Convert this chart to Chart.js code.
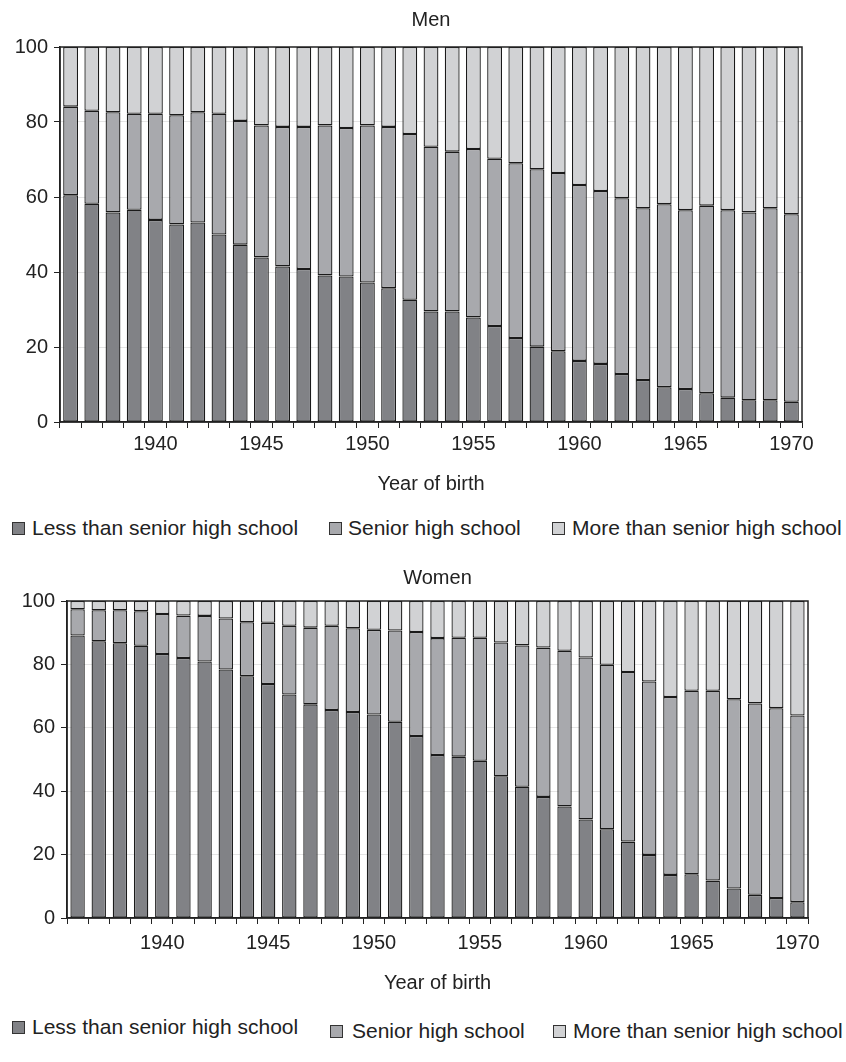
<!DOCTYPE html>
<html>
<head>
<meta charset="utf-8">
<script src="https://cdn.jsdelivr.net/npm/chart.js@4"></script>
<style>
  body { margin: 0; background: #fff; font-family: "Liberation Sans", Arial, sans-serif; color: #222; }
  .panel { position: absolute; left: 0; width: 846px; }
  .legend-item { position: absolute; font-size: 21px; line-height: 21px; white-space: nowrap; }
  .legend-box { position: absolute; width: 11px; height: 11px; border: 1px solid #333; }
</style>
</head>
<body>
<div class="panel" style="top:0;height:500px"><canvas id="menChart"></canvas></div>
<div id="menLegend"></div>
<div class="panel" style="top:552px;height:448px"><canvas id="womenChart"></canvas></div>
<div id="womenLegend"></div>
<script>
const years = [];
for (let y = 1936; y <= 1970; y++) years.push(y);

const seriesNames = ['Less than senior high school', 'Senior high school', 'More than senior high school'];
const seriesColors = ['#818286', '#a8a9ad', '#d1d2d4'];
const yTicks = [0, 20, 40, 60, 80, 100];

// Men (%)
const menLess = [60.5, 58.2, 55.9, 56.6, 53.9, 52.7, 53.2, 50.0, 47.3, 43.9, 41.5, 40.8, 39.1, 38.8, 37.2, 35.7, 32.6, 29.5,
  29.5, 27.9, 25.6, 22.4, 20.1, 18.9, 16.3, 15.5, 12.8, 11.2, 9.3, 8.8, 7.7, 6.5, 5.8, 5.8, 5.4];
const menSenior = [23.6, 24.8, 26.7, 25.6, 28.3, 29.1, 29.4, 32.2, 33.0, 35.2, 37.2, 37.9, 40.0, 39.6, 41.9, 43.0, 44.2, 43.9,
  42.6, 44.9, 44.6, 46.6, 47.3, 47.5, 46.9, 46.1, 46.9, 45.8, 48.8, 47.7, 50.0, 50.0, 50.1, 51.2, 50.0];
const menMore = [15.9, 17.0, 17.4, 17.8, 17.8, 18.2, 17.4, 17.8, 19.7, 20.9, 21.3, 21.3, 20.9, 21.6, 20.9, 21.3, 23.2, 26.6,
  27.9, 27.2, 29.8, 31.0, 32.6, 33.6, 36.8, 38.4, 40.3, 43.0, 41.9, 43.5, 42.3, 43.5, 44.1, 43.0, 44.6];

// Women (%)
const womenLess = [89.1, 87.3, 86.7, 85.9, 83.3, 82.0, 80.9, 78.4, 76.3, 73.8, 70.5, 67.4, 65.6, 65.0, 64.2, 61.9, 57.4, 51.4,
  50.9, 49.6, 44.7, 41.4, 38.2, 35.2, 31.1, 28.0, 24.1, 19.9, 13.6, 13.8, 11.8, 9.3, 7.3, 6.3, 5.0];
const womenSenior = [8.3, 9.8, 10.4, 10.9, 12.6, 13.4, 14.4, 16.1, 17.0, 19.3, 21.7, 24.2, 26.6, 26.4, 26.7, 28.8, 32.8, 36.9,
  37.5, 38.8, 42.2, 44.6, 47.1, 49.1, 51.1, 51.9, 53.5, 54.7, 56.1, 57.9, 59.9, 59.7, 60.4, 59.9, 58.9];
const womenMore = [2.6, 2.9, 2.9, 3.2, 4.1, 4.6, 4.7, 5.5, 6.7, 6.9, 7.8, 8.4, 7.8, 8.6, 9.1, 9.3, 9.8, 11.7,
  11.6, 11.6, 13.1, 14.0, 14.7, 15.7, 17.8, 20.1, 22.4, 25.4, 30.3, 28.3, 28.3, 31.0, 32.3, 33.8, 36.1];

Chart.defaults.font.family = '"Liberation Sans", Arial, sans-serif';
Chart.defaults.font.size = 20;
Chart.defaults.color = '#222';

// frame round the plot area and the panel title over its centre
const framePlugin = {
    id: 'frame',
    afterDatasetsDraw(chart, args, opts) {
        const { ctx, chartArea: a } = chart;
        ctx.save();
        ctx.strokeStyle = '#222';
        ctx.lineWidth = 1.5;
        ctx.strokeRect(a.left, a.top, a.right - a.left, a.bottom - a.top);
        ctx.fillStyle = '#222';
        ctx.font = '20px "Liberation Sans", Arial, sans-serif';
        ctx.textAlign = 'center';
        ctx.textBaseline = 'middle';
        ctx.fillText(opts.text, (a.left + a.right) / 2, opts.y);
        ctx.restore();
    }
};

function makeChart(id, title, titleY, less, senior, more, pad, yWidth, barPct, tickPad, titlePad) {
    const data = [less, senior, more];
    const ctx = document.getElementById(id).getContext('2d');
    return new Chart(ctx, {
        type: 'bar',
        data: {
            labels: years,
            datasets: data.map((d, i) => ({
                label: seriesNames[i],
                data: d,
                backgroundColor: seriesColors[i],
                borderColor: '#1a1a1a',
                borderWidth: 1.3,
                borderSkipped: false,
                inflateAmount: 0,
                barPercentage: barPct,
                categoryPercentage: 1.0,
            }))
        },
        options: {
            responsive: true,
            maintainAspectRatio: false,
            animation: false,
            layout: { padding: pad },
            plugins: {
                legend: { display: false },
                tooltip: { enabled: false },
                frame: { text: title, y: titleY }
            },
            scales: {
                x: {
                    stacked: true,
                    grid: { offset: true, drawOnChartArea: false, tickColor: '#222', tickLength: 6 },
                    border: { color: '#222', width: 1.5 },
                    ticks: {
                        autoSkip: false,
                        maxRotation: 0,
                        padding: tickPad,
                        callback: (v, i) => years[i] % 5 === 0 ? String(years[i]) : ''
                    },
                    title: { display: true, text: 'Year of birth', padding: { top: titlePad, bottom: 0 } }
                },
                y: {
                    stacked: true,
                    min: 0,
                    max: 100,
                    afterBuildTicks: s => { s.ticks = yTicks.map(v => ({ value: v })); },
                    afterFit: s => { s.width = yWidth; },
                    grid: {
                        color: c => (c.tick && (c.tick.value === 0 || c.tick.value === 100)) ? 'rgba(0,0,0,0)' : '#e4e4e4',
                        tickColor: '#222',
                        tickLength: 6
                    },
                    border: { color: '#222', width: 1.5 },
                    ticks: { padding: 6 }
                }
            }
        },
        plugins: [framePlugin]
    });
}

makeChart('menChart', 'Men', 20, menLess, menSenior, menMore, { top: 47, right: 44, bottom: 4, left: 0 }, 60, 0.7, 4, 12);
makeChart('womenChart', 'Women', 26, womenLess, womenSenior, womenMore, { top: 49, right: 38, bottom: 5, left: 0 }, 67, 0.68, 7, 9);

function buildLegend(elId, items) {
    const el = document.getElementById(elId);
    items.forEach((it, i) => {
        const box = document.createElement('div');
        box.className = 'legend-box';
        box.style.left = it.box + 'px';
        box.style.top = (it.y - 6) + 'px';
        box.style.background = seriesColors[i];
        const txt = document.createElement('div');
        txt.className = 'legend-item';
        txt.style.left = it.text + 'px';
        txt.style.top = (it.y - 11) + 'px';
        txt.textContent = seriesNames[i];
        el.appendChild(box);
        el.appendChild(txt);
    });
}

buildLegend('menLegend', [
    { box: 12, text: 32, y: 528 },
    { box: 329, text: 348, y: 528 },
    { box: 552, text: 572, y: 528 }
]);
buildLegend('womenLegend', [
    { box: 12, text: 32, y: 1027 },
    { box: 330, text: 352, y: 1031 },
    { box: 553, text: 573, y: 1031 }
]);
</script>
</body>
</html>
